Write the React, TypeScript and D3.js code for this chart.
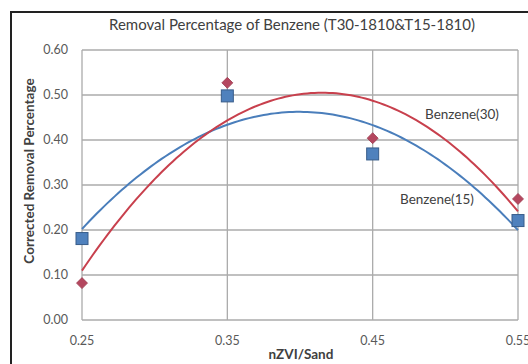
import * as d3 from 'd3';

const W = 528;
const H = 364;

const ratios = [0.25, 0.35, 0.45, 0.55];
const benzene30 = [0.082, 0.527, 0.404, 0.269];
const benzene15 = [0.181, 0.498, 0.369, 0.221];
const yTicks = [0, 0.1, 0.2, 0.3, 0.4, 0.5, 0.6];

// least squares 2nd order polynomial (Excel style trendline)
function quadFit(xs: number[], ys: number[]) {
  const n = xs.length;
  const s = [0, 0, 0, 0, 0];
  const t = [0, 0, 0];
  for (let i = 0; i < n; i++) {
    for (let k = 0; k < 5; k++) s[k] += Math.pow(xs[i], k);
    for (let k = 0; k < 3; k++) t[k] += ys[i] * Math.pow(xs[i], k);
  }
  const m = [
    [s[0], s[1], s[2], t[0]],
    [s[1], s[2], s[3], t[1]],
    [s[2], s[3], s[4], t[2]],
  ];
  for (let c = 0; c < 3; c++) {
    for (let r = c + 1; r < 3; r++) {
      const f = m[r][c] / m[c][c];
      for (let k = c; k < 4; k++) m[r][k] -= f * m[c][k];
    }
  }
  const coef = [0, 0, 0];
  for (let r = 2; r >= 0; r--) {
    let v = m[r][3];
    for (let k = r + 1; k < 3; k++) v -= m[r][k] * coef[k];
    coef[r] = v / m[r][r];
  }
  return (x: number) => coef[0] + coef[1] * x + coef[2] * x * x;
}

const x = d3.scaleLinear().domain([0.25, 0.55]).range([82, 518]);
const y = d3.scaleLinear().domain([0, 0.6]).range([320, 50]);

const App = () => {
  const fit30 = quadFit(ratios, benzene30);
  const fit15 = quadFit(ratios, benzene15);
  const xs = d3.range(0.25, 0.5501, 0.0025);
  const line = (f: (v: number) => number) =>
    d3.line<number>().x(d => x(d)).y(d => y(f(d)))(xs) || '';

  const font = 'Lato, "Open Sans", sans-serif';
  const tickColor = '#595959';

  return (
    <svg width={W} height={H} style={{ position: 'absolute', left: 0, top: 0, background: '#fff' }} fontFamily={font}>
      <rect x={11} y={12} width={W} height={H} fill="#fff" stroke="#222" strokeWidth={2} />

      <text x={292} y={30} textAnchor="middle" fontSize={15} fill="#404040">
        Removal Percentage of Benzene (T30-1810&amp;T15-1810)
      </text>

      {/* grid */}
      {yTicks.map(t => (
        <line key={'h' + t} x1={x(0.25)} x2={x(0.55)} y1={y(t)} y2={y(t)} stroke="#ababab" strokeWidth={1.3} />
      ))}
      {ratios.map(t => (
        <line key={'v' + t} x1={x(t)} x2={x(t)} y1={y(0)} y2={y(0.6)} stroke="#ababab" strokeWidth={1.3} />
      ))}

      {yTicks.map(t => (
        <text key={'yt' + t} x={68} y={y(t) + 4} textAnchor="end" fontSize={12.5} fill={tickColor}>
          {d3.format('.2f')(t)}
        </text>
      ))}
      {ratios.map(t => (
        <text key={'xt' + t} x={x(t)} y={345} textAnchor="middle" fontSize={12.5} fill={tickColor}>
          {d3.format('.2f')(t)}
        </text>
      ))}

      <text x={301} y={359} textAnchor="middle" fontSize={13.5} fontWeight="bold" fill="#404040">nZVI/Sand</text>
      <text transform={`translate(34,${171}) rotate(-90)`} textAnchor="middle" fontSize={13.5} fontWeight="bold" fill="#404040">
        Corrected Removal Percentage
      </text>

      <path d={line(fit15)} fill="none" stroke="#4a7ebb" strokeWidth={2} />
      <path d={line(fit30)} fill="none" stroke="#c8404d" strokeWidth={2} />

      {ratios.map((r, i) => (
        <rect key={'s' + r} x={x(r) - 6} y={y(benzene15[i]) - 6} width={12} height={12}
          fill="#4f81bd" stroke="#385d8a" strokeWidth={1} />
      ))}
      {ratios.map((r, i) => {
        const cx = x(r);
        const cy = y(benzene30[i]);
        return (
          <path key={'d' + r} d={`M${cx},${cy - 5.5}L${cx + 5.5},${cy}L${cx},${cy + 5.5}L${cx - 5.5},${cy}Z`}
            fill="#b4475f" stroke="#9e3d52" strokeWidth={0.8} />
        );
      })}

      <text x={425} y={119} fontSize={13.5} fill="#404040">Benzene(30)</text>
      <text x={400} y={204} fontSize={13.5} fill="#404040">Benzene(15)</text>
    </svg>
  );
};

export default App;
